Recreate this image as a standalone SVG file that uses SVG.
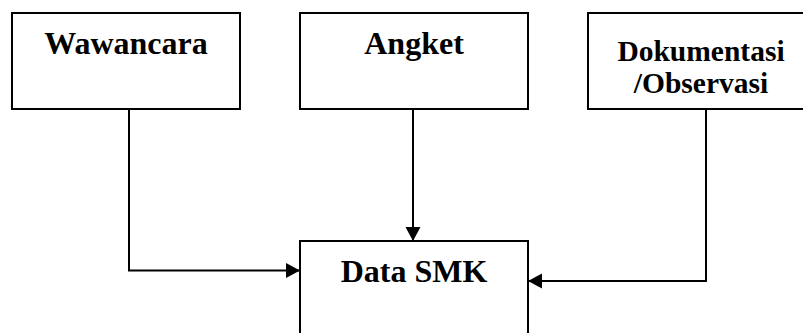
<svg xmlns="http://www.w3.org/2000/svg" width="803" height="333" viewBox="0 0 803 333">
<style>
.box{fill:#fff;stroke:#000;stroke-width:2}
.lbl{font-family:"Liberation Serif","Times New Roman",serif;font-weight:bold;font-size:32px;fill:#000;text-anchor:middle}
.two{font-size:29.5px}
.conn{fill:none;stroke:#000;stroke-width:2}
</style>
<defs>
<marker id="arr" markerWidth="16" markerHeight="16" refX="14" refY="7.5" orient="auto" markerUnits="userSpaceOnUse">
<path d="M0,0 L14,7.5 L0,15 Z" fill="#000"/>
</marker>
</defs>
<rect width="803" height="333" fill="#fff"/>
<g id="wawancara"><rect class="box" x="12" y="13" width="228" height="96"/><text class="lbl" x="126" y="54">Wawancara</text></g>
<g id="angket"><rect class="box" x="300" y="13" width="228" height="96"/><text class="lbl" x="414" y="54">Angket</text></g>
<g id="dokumentasi"><rect class="box" x="588" y="13" width="230" height="96"/><text class="lbl two" x="701" y="61">Dokumentasi</text><text class="lbl two" x="701" y="93">/Observasi</text></g>
<g id="data-smk"><rect class="box" x="300" y="241" width="228" height="100"/><text class="lbl" x="414" y="282">Data SMK</text></g>
<g id="connectors">
<path class="conn" d="M129,109 V270.5 H300" marker-end="url(#arr)"/>
<path class="conn" d="M413,109 V241" marker-end="url(#arr)"/>
<path class="conn" d="M706,109 V281 H528" marker-end="url(#arr)"/>
</g>
</svg>
